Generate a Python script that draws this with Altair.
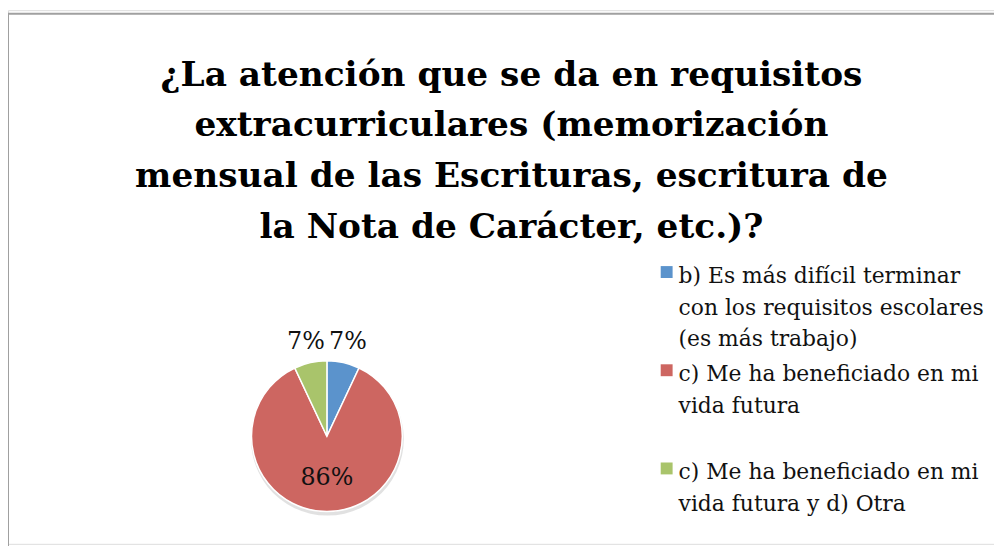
import altair as alt
import pandas as pd

# ---- data ----
categories = [
    "b) Es más difícil terminar con los requisitos escolares (es más trabajo)",
    "c) Me ha beneficiado en mi vida futura",
    "c) Me ha beneficiado en mi vida futura y d) Otra",
]
values = [7, 86, 7]
labels = ["7%", "86%", "7%"]
legend_lines = [
    ["b) Es más difícil terminar", "con los requisitos escolares", "(es más trabajo)"],
    ["c) Me ha beneficiado en mi", "vida futura", ""],
    ["c) Me ha beneficiado en mi", "vida futura y d) Otra"],
]
colors = ["#5B93CC", "#CD6661", "#A9C46B"]
title_lines = [
    "¿La atención que se da en requisitos",
    "extracurriculares (memorización",
    "mensual de las Escrituras, escritura de",
    "la Nota de Carácter, etc.)?",
]

df = pd.DataFrame({
    "category": categories,
    "value": values,
    "label": labels,
    "order": list(range(len(categories))),
})

SERIF = "DejaVu Serif"
CX, CY, R = 321.5, 429.5, 76


def js_list(lst):
    return "[" + ",".join("'" + s.replace("'", "\\'") + "'" for s in lst) + "]"


label_expr = ""
for cat, lines in zip(categories[:-1], legend_lines[:-1]):
    label_expr += f"datum.label == '{cat}' ? {js_list(lines)} : "
label_expr += js_list(legend_lines[-1])

base = alt.Chart(df).encode(
    theta=alt.Theta("value:Q", stack=True),
    order=alt.Order("order:Q"),
)

shadow = base.mark_arc(outerRadius=R + 1, opacity=0.3, strokeWidth=0).encode(
    x=alt.value(CX + 0.5),
    y=alt.value(CY + 3),
    fill=alt.value("#9a9a9a"),
)

arcs = base.mark_arc(outerRadius=R, stroke="white", strokeWidth=1.5).encode(
    x=alt.value(CX),
    y=alt.value(CY),
    color=alt.Color(
        "category:N",
        scale=alt.Scale(domain=categories, range=colors),
        title=None,
        legend=alt.Legend(
            orient="none",
            legendX=653,
            legendY=253,
            symbolType="square",
            symbolSize=144,
            symbolStrokeWidth=0,
            labelFont=SERIF,
            labelFontSize=22,
            labelColor="#111111",
            labelLimit=0,
            labelOffset=1,
            labelBaseline="top",
            rowPadding=9,
            labelExpr=label_expr,
        ),
    ),
)

pie_text = base.mark_text(font=SERIF, fontSize=24, baseline="middle", align="center").encode(
    x=alt.value(CX),
    y=alt.value(CY),
    radius=alt.Radius(
        "value:Q",
        scale=alt.Scale(type="linear", domain=[7, 86], range=[97, 42], zero=False),
    ),
    text="label:N",
    color=alt.value("#111111"),
)

title = alt.Chart(pd.DataFrame({"t": [0]})).mark_text(
    font=SERIF,
    fontSize=34.6,
    fontWeight="bold",
    align="center",
    baseline="alphabetic",
    lineHeight=51.3,
    color="#000000",
).encode(
    x=alt.value(507.5),
    y=alt.value(76),
    text=alt.value(title_lines),
)

border = alt.Chart(pd.DataFrame({"t": [0]})).mark_rect(
    fillOpacity=0, stroke="#a0a0a0", strokeWidth=2
).encode(
    x=alt.value(0),
    y=alt.value(3.7),
    x2=alt.value(1200),
    y2=alt.value(800),
)

chart = (
    alt.layer(border, title, shadow, arcs, pie_text)
    .resolve_scale(radius="independent")
    .properties(
        width=994,
        height=538,
        autosize=alt.AutoSizeParams(type="none"),
        padding=0,
    )
    .configure_view(stroke=None)
    .configure(style={"guide-label": {"lineHeight": 32, "dy": -6}})
)

chart.save("out.html", embed_options={"renderer": "svg", "actions": False})
